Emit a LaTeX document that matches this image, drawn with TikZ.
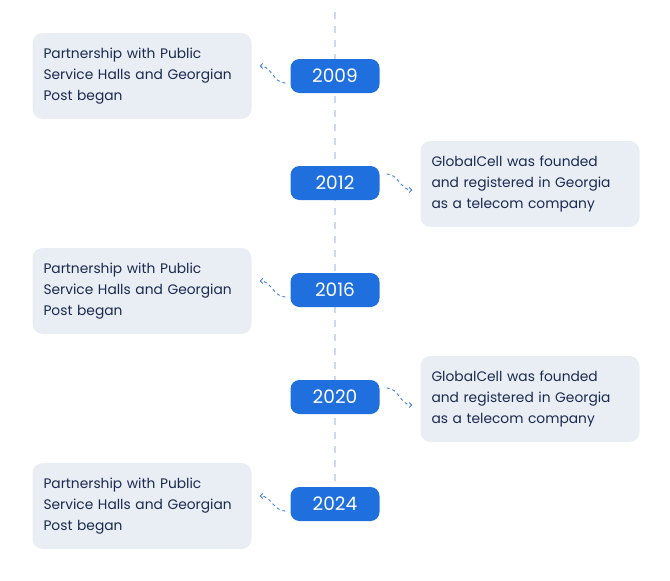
\documentclass[tikz,border=0pt]{standalone}
\usepackage{fontspec}
\setmainfont{Poppins}
\usepackage{tikz}
\usetikzlibrary{arrows.meta}
\usepackage{xcolor}
\definecolor{yearblue}{HTML}{1F6FDF}
\definecolor{cardgray}{HTML}{E9EEF5}
\definecolor{inktext}{HTML}{1B2A4E}
\definecolor{lineblue}{HTML}{C8DBF6}
\definecolor{linkblue}{HTML}{3F7FE3}

\begin{document}
\begin{tikzpicture}[x=1pt,y=-1pt,
  year/.style={fill=yearblue,text=white,rounded corners=9pt,minimum width=89pt,minimum height=34pt,inner sep=0pt,font=\fontsize{18.5}{20}\selectfont},
  card/.style={fill=cardgray,text=inktext,rounded corners=10pt,minimum width=219pt,minimum height=86pt,text width=197pt,inner sep=11pt,align=left,font=\fontsize{13.8}{21}\selectfont},
  link/.style={draw=linkblue,line width=0.9pt,dash pattern=on 3pt off 3pt,-{Straight Barb[length=2.5pt,width=5pt]}}]
  \useasboundingbox (0,0) rectangle (670,581);
  % timeline
  \coordinate (top) at (335,12);
  \coordinate (bottom) at (335,487);
  \draw[lineblue,line width=1.6pt,dash pattern=on 7pt off 7pt] (top) -- (bottom);

  % years
  \node[year] (y2009) at (335,76) {2009};
  \node[year] (y2012) at (335,183) {2012};
  \node[year] (y2016) at (335,290) {2016};
  \node[year] (y2020) at (335,397) {2020};
  \node[year] (y2024) at (335,504) {2024};

  % cards
  \node[card] (c2009) at (142,76) {Partnership with Public\\Service Halls and Georgian\\Post began};
  \node[card] (c2012) at (530,184) {GlobalCell was founded\\and registered in Georgia\\as a telecom company};
  \node[card] (c2016) at (142,291) {Partnership with Public\\Service Halls and Georgian\\Post began};
  \node[card] (c2020) at (530,399) {GlobalCell was founded\\and registered in Georgia\\as a telecom company};
  \node[card] (c2024) at (142,506) {Partnership with Public\\Service Halls and Georgian\\Post began};

  % links
  \draw[link] ([shift={(-5,7)}]y2009.west) to[out=180,in=0] ([shift={(8,-10)}]c2009.east);
  \draw[link] ([shift={(7,-9)}]y2012.east) to[out=0,in=180] ([shift={(-8,6)}]c2012.west);
  \draw[link] ([shift={(-5,7)}]y2016.west) to[out=180,in=0] ([shift={(8,-10)}]c2016.east);
  \draw[link] ([shift={(7,-9)}]y2020.east) to[out=0,in=180] ([shift={(-8,6)}]c2020.west);
  \draw[link] ([shift={(-5,7)}]y2024.west) to[out=180,in=0] ([shift={(8,-10)}]c2024.east);
\end{tikzpicture}
\end{document}
